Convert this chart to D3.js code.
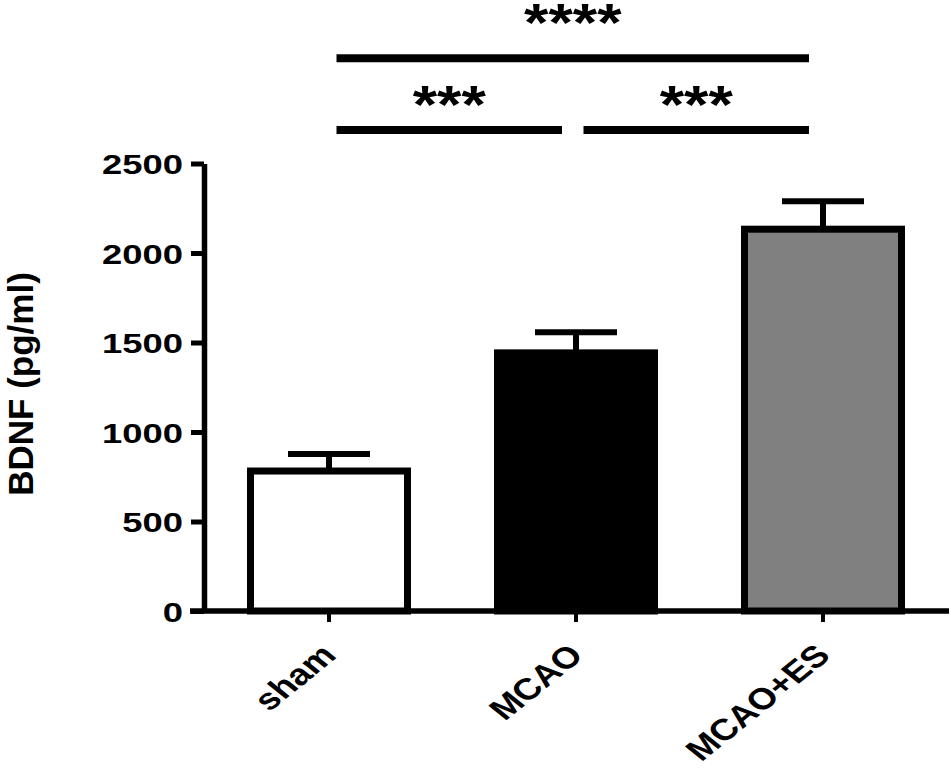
<!DOCTYPE html>
<html><head><meta charset="utf-8">
<script src="https://cdn.jsdelivr.net/npm/d3@7"></script>
<style>html,body{margin:0;padding:0;background:#fff;}svg{display:block;font-family:"Liberation Sans",Arial,sans-serif;font-weight:bold;}</style>
</head><body>
<svg id="chart" width="951" height="772"></svg>
<script>
const categories = ["sham", "MCAO", "MCAO+ES"];
const means = [782, 1442, 2133];
const sems = [95, 115, 156];
const fills = ["#ffffff", "#000000", "#808080"];
const yTicks = [0, 500, 1000, 1500, 2000, 2500];
const yTitle = "BDNF (pg/ml)";
const comparisons = [
  {from: "sham", to: "MCAO+ES", label: "****", level: 0},
  {from: "sham", to: "MCAO", label: "***", level: 1},
  {from: "MCAO", to: "MCAO+ES", label: "***", level: 1}
];

const svg = d3.select("#chart");
const y = d3.scaleLinear().domain([0, 2500]).range([611, 163.5]);
const x = d3.scaleBand().domain(categories).range([203, 949]).paddingInner(0.3644).paddingOuter(0.1923);
const cx = c => x(c) + x.bandwidth() / 2;

// bars
svg.append("g").selectAll("rect").data(categories).join("rect")
  .attr("x", c => x(c))
  .attr("width", x.bandwidth())
  .attr("y", (c, i) => y(means[i]))
  .attr("height", (c, i) => y(0) - y(means[i]))
  .attr("fill", (c, i) => fills[i])
  .attr("stroke", "#000").attr("stroke-width", 7);

// error bars (upper)
const eb = svg.append("g").attr("stroke", "#000").attr("stroke-width", 6);
categories.forEach((c, i) => {
  eb.append("line").attr("x1", cx(c)).attr("x2", cx(c)).attr("y1", y(means[i])).attr("y2", y(means[i] + sems[i]));
  eb.append("line").attr("x1", cx(c) - 41).attr("x2", cx(c) + 41).attr("y1", y(means[i] + sems[i])).attr("y2", y(means[i] + sems[i]));
});

// x axis
const gx = svg.append("g").attr("transform", `translate(0,${y(0)})`)
  .call(d3.axisBottom(x).tickSize(11).tickSizeOuter(0).tickFormat(""));
gx.select(".domain").attr("d", `M${x.range()[0] - 13},0H${x.range()[1]}`).attr("stroke-width", 5.5);
gx.selectAll(".tick line").attr("stroke-width", 4);
categories.forEach(c => {
  svg.append("text").attr("transform", `translate(${cx(c) + 9},${y(0) + 46}) scale(1.24,1) rotate(-45)`)
    .attr("text-anchor", "end").attr("font-size", 30).attr("fill", "#000").text(c);
});

// y axis
const gy = svg.append("g").attr("transform", `translate(${x.range()[0] + 1},0)`)
  .call(d3.axisLeft(y).tickValues(yTicks).tickSize(13).tickSizeOuter(0).tickFormat(d3.format("d")));
gy.select(".domain").attr("stroke-width", 5.5);
gy.selectAll(".tick line").attr("stroke-width", 5);
gy.selectAll(".tick text").attr("x", 0).attr("dy", "0.36em").attr("font-size", 28)
  .attr("font-family", "'Liberation Sans',Arial,sans-serif").attr("font-weight", "bold").attr("fill", "#000")
  .attr("transform", "translate(-21,0) scale(1.3,1)");

svg.append("text").attr("transform", "translate(33,384) rotate(-90)")
  .attr("text-anchor", "middle").attr("font-size", 35).attr("fill", "#000").text(yTitle);

// significance bars
const levelY = [58.3, 130];
const starY = [40.5, 123];
comparisons.forEach(cmp => {
  const x1 = cx(cmp.from) + 7.5, x2 = cx(cmp.to) - 14;
  svg.append("line").attr("x1", x1).attr("x2", x2).attr("y1", levelY[cmp.level]).attr("y2", levelY[cmp.level])
    .attr("stroke", "#000").attr("stroke-width", 8);
  svg.append("text").attr("transform", `translate(${(x1 + x2) / 2},${starY[cmp.level]}) scale(1.16,1)`)
    .attr("text-anchor", "middle").attr("font-size", 54).attr("fill", "#000").text(cmp.label);
});
</script>
</body></html>
